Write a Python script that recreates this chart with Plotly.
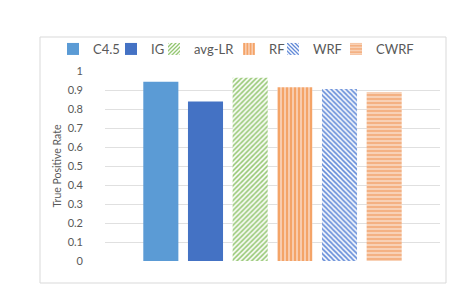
import plotly.graph_objects as go

series = ["C4.5", "IG", "avg-LR", "RF", "WRF", "CWRF"]
values = [0.943, 0.84, 0.965, 0.915, 0.905, 0.89]
category = ["TPR"]
y_ticks = [0, 0.1, 0.2, 0.3, 0.4, 0.5, 0.6, 0.7, 0.8, 0.9, 1]
y_tick_labels = ["0", "0.1", "0.2", "0.3", "0.4", "0.5", "0.6", "0.7", "0.8", "0.9", "1"]

styles = [
    dict(color="#5B9BD5"),
    dict(color="#4472C4"),
    dict(color="#FFFFFF", pattern=dict(shape="/", fgcolor="#8FC46B", bgcolor="#FFFFFF", size=3.5, solidity=0.45, fillmode="replace")),
    dict(color="#F8CBAD", pattern=dict(shape="|", fgcolor="#F4A060", bgcolor="#F8CBAD", size=4, solidity=0.45, fillmode="replace")),
    dict(color="#FFFFFF", pattern=dict(shape="\\", fgcolor="#5B85D6", bgcolor="#FFFFFF", size=3.5, solidity=0.45, fillmode="replace")),
    dict(color="#F4B183", pattern=dict(shape="-", fgcolor="#FBE0CC", bgcolor="#F4B183", size=4, solidity=0.35, fillmode="replace")),
]
# legend entry text start (px) — layout of the separate legend boxes
legend_text_x = [92, 150, 193, 268, 312, 375]

W, H = 471, 305
px_l, px_r, px_t, px_b = 97, 432, 63, 253   # plot area in pixels

fig = go.Figure()
legend_layout = {}
for i, (name, v, st, tx) in enumerate(zip(series, values, styles, legend_text_x)):
    lid = "legend" if i == 0 else f"legend{i + 1}"
    fig.add_trace(go.Bar(x=category, y=[v], name=name, legend=lid,
                         marker=dict(line=dict(width=0), **st)))
    legend_layout[lid] = dict(orientation="h", xref="paper", yref="paper",
                              x=(tx - 47) / W, xanchor="left", y=1 - 41 / H, yanchor="middle",
                              font=dict(size=13, color="#595959"), itemwidth=30,
                              bgcolor="rgba(0,0,0,0)", borderwidth=0)

fig.update_layout(
    width=W, height=H,
    margin=dict(l=0, r=0, t=0, b=0, autoexpand=False),
    paper_bgcolor="white", plot_bgcolor="white",
    barmode="group", bargap=0.2, bargroupgap=0.215,
    font=dict(family="Lato, Liberation Sans, sans-serif", color="#595959", size=11),
    showlegend=True,
    xaxis=dict(domain=[px_l / W, px_r / W], showticklabels=False, showgrid=False,
               zeroline=False, showline=False, ticks=""),
    yaxis=dict(domain=[1 - px_b / H, 1 - px_t / H], range=[0, 1], tickvals=y_ticks,
               ticktext=y_tick_labels, showgrid=True,
               gridcolor="#E0E0E0", gridwidth=1, zeroline=False, showline=False,
               ticks="", ticklabelstandoff=21, tickfont=dict(size=11, color="#595959"),
               title=dict(text="True Positive Rate", font=dict(size=10.5, color="#595959"), standoff=3)),
    **legend_layout,
)

# outer chart-area border
fig.add_shape(type="rect", xref="paper", yref="paper",
              x0=32 / W, x1=438 / W, y0=1 - 275 / H, y1=1 - 29 / H,
              line=dict(color="#D9D9D9", width=1), fillcolor="rgba(0,0,0,0)", layer="below")

fig.write_html("out.html")
